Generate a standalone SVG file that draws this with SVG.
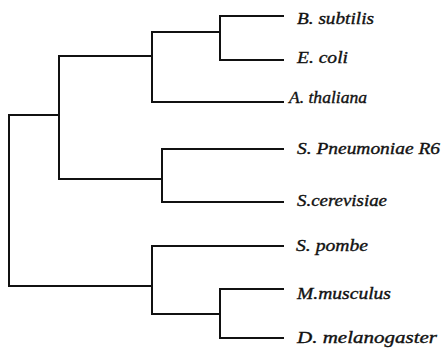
<svg xmlns="http://www.w3.org/2000/svg" width="443" height="353" viewBox="0 0 443 353">
<style>
.e{fill:none;stroke:#111;stroke-width:2;stroke-linecap:square;stroke-linejoin:miter}
text{font-family:'Liberation Serif','Times New Roman','DejaVu Serif',serif;font-style:italic;font-size:16.5px;fill:#111;stroke:#111;stroke-width:0.35}
</style>
<rect width="443" height="353" fill="#fff"/>
<g id="connectors">
<path class="e" d="M59,115 H9 V286 H152"/>
<path class="e" d="M152,56 H59 V179 H162"/>
<path class="e" d="M220,32 H152 V102 H283"/>
<path class="e" d="M283,16 H220 V60 H283"/>
<path class="e" d="M283,149 H162 V202 H283"/>
<path class="e" d="M283,246 H152 V314 H220"/>
<path class="e" d="M283,289 H220 V338 H283"/>
</g>
<g id="n-bsubtilis"><text x="297" y="24" textLength="77" lengthAdjust="spacingAndGlyphs">B. subtilis</text></g>
<g id="n-ecoli"><text x="297" y="63" textLength="51" lengthAdjust="spacingAndGlyphs">E. coli</text></g>
<g id="n-athaliana"><text x="289" y="103" textLength="78" lengthAdjust="spacingAndGlyphs">A. thaliana</text></g>
<g id="n-spneumoniae"><text x="297" y="154" textLength="143" lengthAdjust="spacingAndGlyphs">S. Pneumoniae R6</text></g>
<g id="n-scerevisiae"><text x="297" y="206" textLength="90" lengthAdjust="spacingAndGlyphs">S.cerevisiae</text></g>
<g id="n-spombe"><text x="296" y="251" textLength="72" lengthAdjust="spacingAndGlyphs">S. pombe</text></g>
<g id="n-mmusculus"><text x="297" y="299" textLength="94" lengthAdjust="spacingAndGlyphs">M.musculus</text></g>
<g id="n-dmelanogaster"><text x="297" y="343" textLength="140" lengthAdjust="spacingAndGlyphs">D. melanogaster</text></g>
</svg>
